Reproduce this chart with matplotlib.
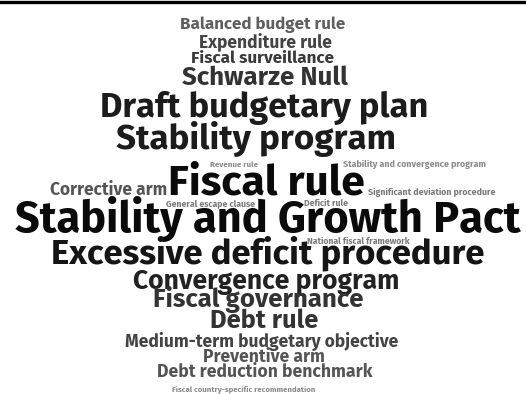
import matplotlib
matplotlib.use("Agg")
import matplotlib.pyplot as plt
from matplotlib.lines import Line2D
from matplotlib.textpath import TextPath
from matplotlib.font_manager import FontProperties, fontManager

# ---- data: terms and their (estimated) relative frequency ----
words = [
    "Balanced budget rule", "Expenditure rule", "Fiscal surveillance", "Schwarze Null",
    "Draft budgetary plan", "Stability program", "Revenue rule",
    "Stability and convergence program", "Corrective arm", "Fiscal rule",
    "Significant deviation procedure", "General escape clause", "Deficit rule",
    "Stability and Growth Pact", "National fiscal framework",
    "Excessive deficit procedure", "Convergence program", "Fiscal governance",
    "Debt rule", "Medium-term budgetary objective", "Preventive arm",
    "Debt reduction benchmark", "Fiscal country-specific recommendation",
]
freq = [14, 16, 16, 22, 30, 30, 6, 7, 18, 44, 7, 6, 6, 40, 6, 30, 22, 22, 24, 16, 16, 18, 6]

# ---- layout (word-cloud placement): left edge, right edge, baseline in px ----
x_left = [180, 199, 191, 182, 100, 115, 210, 343, 50, 168, 368, 166, 304, 15, 307,
          50, 133, 153, 210, 125, 203, 157, 172]
x_right = [346, 332, 334, 348, 429, 396, 258, 486, 167, 365, 496, 255, 348, 521, 410,
           485, 400, 363, 318, 398, 325, 373, 315]
baseline = [29, 47, 63, 85, 117, 149, 167, 167, 195, 194, 195, 206, 206, 232, 244,
            263, 289, 307, 328, 347, 362, 377, 392]
colors = ["#5f5f5f", "#444444", "#3a3a3a", "#333333", "#1c1c1c", "#1c1c1c", "#8a8a8a",
          "#8a8a8a", "#555555", "#0a0a0a", "#7a7a7a", "#7a7a7a", "#7a7a7a", "#0a0a0a",
          "#7a7a7a", "#151515", "#222222", "#333333", "#333333", "#444444", "#555555",
          "#555555", "#8a8a8a"]

# pick the installed bold sans whose width / cap-height ratio best matches the reference
TARGET = 506 / 30.0
avail = set(f.name for f in fontManager.ttflist)
cands = ["Fira Sans Condensed", "Hind", "Open Sans", "PT Sans Narrow", "Encode Sans Condensed",
         "IBM Plex Sans Condensed", "Roboto Condensed", "Barlow Semi Condensed",
         "Asap Condensed", "Fira Sans", "Mukta", "Open Sans Condensed"]
best, bestd = "DejaVu Sans", 1e9
for name in cands:
    if name not in avail:
        continue
    fp = FontProperties(family=name, weight="bold")
    wdt = TextPath((0, 0), "Stability and Growth Pact", size=100, prop=fp).get_extents().width
    cap = TextPath((0, 0), "H", size=100, prop=fp).get_extents().height
    d = abs(wdt / cap - TARGET) / TARGET
    if d < bestd:
        best, bestd = name, d
FONT = [best, "DejaVu Sans"]

W, H = 526, 394
fig = plt.figure(figsize=(W / 100, H / 100), dpi=100)
ax = fig.add_axes([0, 0, 1, 1])
ax.set_xlim(0, W)
ax.set_ylim(H, 0)
ax.axis("off")

fig.canvas.draw()
renderer = fig.canvas.get_renderer()

for w, f, x0, x1, yb, c in zip(words, freq, x_left, x_right, baseline, colors):
    t = ax.text((x0 + x1) / 2, yb, w, ha="center", va="baseline", family=FONT,
                weight="bold", fontsize=20, color=c)
    ext = t.get_window_extent(renderer=renderer)
    t.set_fontsize(20 * (x1 - x0) / ext.width)

# top rule
fig.add_artist(Line2D([0, 1], [1 - 1.5 / H, 1 - 1.5 / H], transform=fig.transFigure,
                      color="black", lw=2.4))

fig.savefig("out.png", dpi=100)
